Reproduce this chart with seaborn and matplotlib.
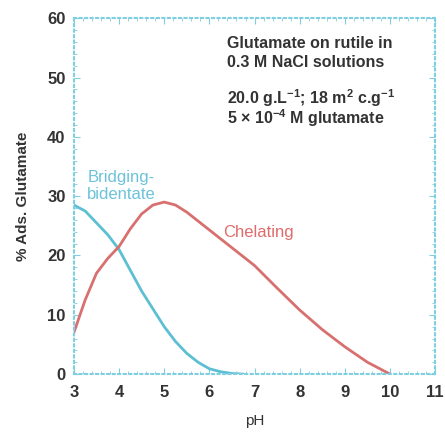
import matplotlib
matplotlib.use("Agg")
import pandas as pd
import seaborn as sns
from matplotlib import pyplot as plt
from matplotlib.ticker import MultipleLocator

# values
ph_bridging = [3.0, 3.25, 3.5, 3.75, 4.0, 4.25, 4.5, 4.75, 5.0, 5.25, 5.5, 5.75, 6.0, 6.25, 6.5, 6.75]
ads_bridging = [28.5, 27.5, 25.5, 23.5, 21.0, 17.5, 14.0, 11.0, 8.0, 5.5, 3.5, 2.0, 0.9, 0.4, 0.1, 0.0]

ph_chelating = [3.0, 3.25, 3.5, 3.75, 4.0, 4.25, 4.5, 4.75, 5.0, 5.25, 5.5, 5.75, 6.0, 6.5, 7.0, 7.5,
                8.0, 8.5, 9.0, 9.5, 10.0]
ads_chelating = [7.0, 12.5, 17.0, 19.5, 21.5, 24.5, 27.0, 28.5, 29.0, 28.5, 27.3, 25.8, 24.3, 21.3, 18.3,
                 14.5, 10.8, 7.5, 4.6, 2.0, 0.0]

info_lines = ['Glutamate on rutile in', '0.3 M NaCl solutions',
              '20.0 g.L$^{-1}$; 18 m$^{2}$ c.g$^{-1}$', '5 × 10$^{-4}$ M glutamate']

df = pd.concat([
    pd.DataFrame({'pH': ph_bridging, 'ads': ads_bridging, 'mode': 'Bridging'}),
    pd.DataFrame({'pH': ph_chelating, 'ads': ads_chelating, 'mode': 'Chelating'}),
])

sns.set_style('white')
plt.rcParams['font.family'] = ['Liberation Sans', 'DejaVu Sans']
plt.rcParams['mathtext.fontset'] = 'custom'
plt.rcParams['mathtext.rm'] = 'Liberation Sans:bold'
plt.rcParams['mathtext.it'] = 'Liberation Sans:bold'
plt.rcParams['mathtext.bf'] = 'Liberation Sans:bold'
plt.rcParams['mathtext.default'] = 'rm'

fig = plt.figure(figsize=(4.45, 4.33), dpi=100)
ax = fig.add_axes([0.166, 0.136, 0.812, 0.822])

palette = {'Bridging': '#5cbfd2', 'Chelating': '#d7706f'}
sns.lineplot(data=df, x='pH', y='ads', hue='mode', palette=palette, linewidth=2.0,
             legend=False, ax=ax, sort=False)

ax.set_xlim(3, 11)
ax.set_ylim(0, 60)
ax.xaxis.set_major_locator(MultipleLocator(1))
ax.yaxis.set_major_locator(MultipleLocator(10))
ax.xaxis.set_minor_locator(MultipleLocator(0.2))
ax.yaxis.set_minor_locator(MultipleLocator(2))
ax.tick_params(which='both', direction='in', colors='#7fcfe0', labelcolor='#333333',
               top=True, right=True, bottom=True, left=True, labelsize=12)
ax.tick_params(which='major', length=4)
ax.tick_params(which='minor', length=2)
ax.tick_params(axis='x', pad=8)
ax.tick_params(axis='y', pad=6)
for lab in ax.get_xticklabels() + ax.get_yticklabels():
    lab.set_fontweight('bold')

for s in ax.spines.values():
    s.set_color('#7fcfe0')
    s.set_linestyle(':')
    s.set_linewidth(1.5)

ax.set_xlabel('pH', fontsize=11, color='#333333', labelpad=10)
ax.set_ylabel('% Ads. Glutamate', fontsize=11, color='#333333', fontweight='bold', labelpad=12)

# info block, one line at a time so the superscripts don't push the spacing
for line, yv in zip(info_lines, [55.8, 52.6, 46.6, 43.2]):
    ax.text(6.4, yv, line, fontsize=11.5, fontweight='bold', color='#333333', va='center')

ax.text(3.3, 29.5, 'Bridging-\nbidentate', fontsize=12, color='#6cc3d9', linespacing=1.15)
ax.text(6.3, 23.8, 'Chelating', fontsize=12, color='#e06b6b', va='center')

fig.savefig('out.png', dpi=100)
